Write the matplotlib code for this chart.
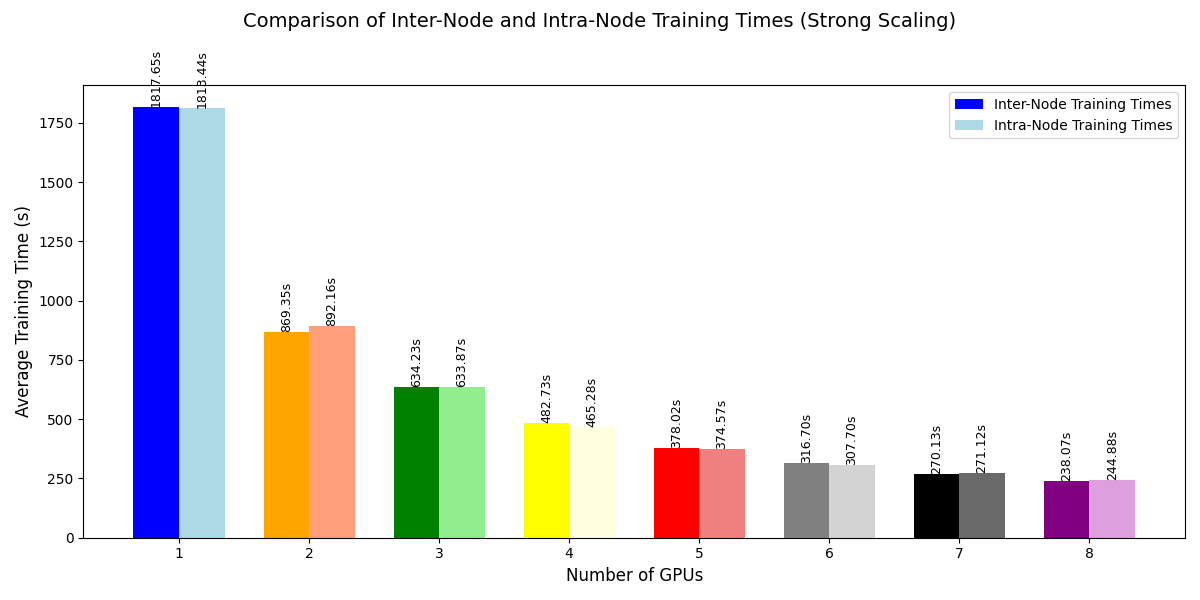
import matplotlib
matplotlib.use("Agg")
import matplotlib.pyplot as plt
import numpy as np

gpus = [1, 2, 3, 4, 5, 6, 7, 8]
inter_times = [1817.65, 869.35, 634.23, 482.73, 378.02, 316.70, 270.13, 238.07]
intra_times = [1813.44, 892.16, 633.87, 465.28, 374.57, 307.70, 271.12, 244.88]
inter_colors = ['blue', 'orange', 'green', 'yellow', 'red', 'gray', 'black', 'purple']
intra_colors = ['lightblue', 'lightsalmon', 'lightgreen', 'lightyellow', 'lightcoral',
                'lightgray', 'dimgray', 'plum']

fig, ax = plt.subplots(figsize=(12, 6), dpi=100)
x = np.array(gpus)
w = 0.35
b1 = ax.bar(x - w / 2, inter_times, w, color=inter_colors, label='Inter-Node Training Times')
b2 = ax.bar(x + w / 2, intra_times, w, color=intra_colors, label='Intra-Node Training Times')

for bars, vals in ((b1, inter_times), (b2, intra_times)):
    for rect, v in zip(bars, vals):
        ax.text(rect.get_x() + rect.get_width() / 2, rect.get_height(), f'{v:.2f}s',
                ha='center', va='bottom', rotation=90, fontsize=9)

ax.set_xlabel('Number of GPUs', fontsize=12)
ax.set_ylabel('Average Training Time (s)', fontsize=12)
ax.set_xticks(x)
ax.set_xticklabels([str(g) for g in gpus])
fig.suptitle('Comparison of Inter-Node and Intra-Node Training Times (Strong Scaling)', fontsize=14)
ax.legend(loc='upper right')
fig.tight_layout()
fig.savefig('out.png')
